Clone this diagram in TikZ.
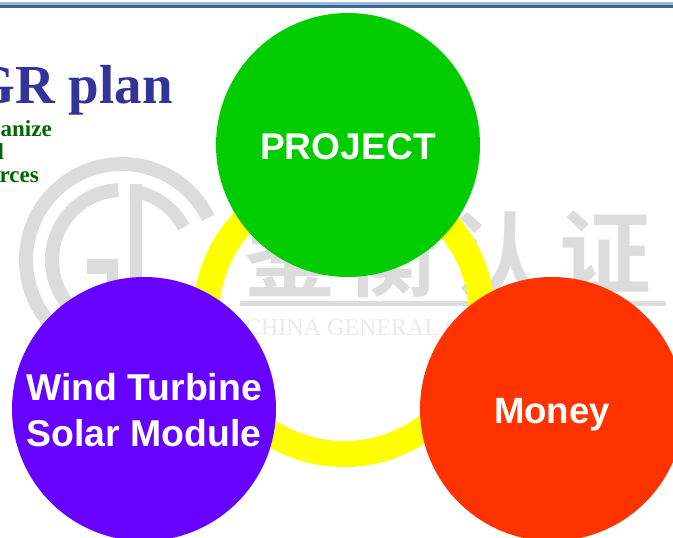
\documentclass[tikz,border=0pt]{standalone}
\usepackage{fontspec}
\setmainfont{Liberation Serif}
\setsansfont{Liberation Sans}
\newfontfamily\cjkwm{Noto Sans CJK SC}[BoldFont={* Bold}]
\definecolor{wm}{HTML}{DCDCDC}
\definecolor{wmlight}{HTML}{EBEBEB}
\definecolor{bardark}{HTML}{35699B}
\definecolor{barlight}{HTML}{9DB9D6}
\definecolor{titleblue}{HTML}{333399}
\definecolor{subgreen}{HTML}{006600}
\definecolor{cgreen}{HTML}{00CC00}
\definecolor{cpurple}{HTML}{6600FF}
\definecolor{cred}{HTML}{FF3300}
\definecolor{ringy}{HTML}{FFFF00}
\tikzset{
  x=1pt,y=-1pt,
  bubble/.style={circle,minimum size=264pt,inner sep=0pt,text=white,align=center},
  subtxt/.style={anchor=base east,inner sep=0pt,text=subgreen,font=\fontsize{23}{23}\bfseries\selectfont},
  wmark/.style={anchor=center,inner sep=0pt,text=wm,font=\cjkwm\bfseries\fontsize{92}{92}\selectfont},
}
\begin{document}
\begin{tikzpicture}
\useasboundingbox (0,0) rectangle (673,538);
\clip (0,0) rectangle (673,538);
\fill[white] (0,0) rectangle (673,538);
% top bar
\fill[barlight] (0,2.4) rectangle (673,4.7);
\fill[bardark] (0,4.7) rectangle (673,8);
% watermark logo
\coordinate (lc) at (122,260);
\draw[wm,line width=14pt] (lc) ++(-26:96) arc[start angle=-26,end angle=-225,radius=96];
\draw[wm,line width=14pt] (lc) ++(-93:70) arc[start angle=-93,end angle=-225,radius=70];
\draw[wm,line width=13pt] (lc) ++(-83:70) arc[start angle=-83,end angle=-28,radius=70];
\fill[wm] (130,184) rectangle (142,290);
\fill[wm] (87,259) rectangle (118,274);
\fill[wm] (107,259) rectangle (118,290);
% watermark text
\node[wmark] (wm1) at (290,255) {鉴};
\node[wmark] (wm2) at (392,255) {衡};
\node[wmark] (wm3) at (495,255) {认};
\node[wmark] (wm4) at (605,252) {证};
\fill[wm] (240,301) rectangle (666,306);
\node[anchor=base west,inner sep=0pt,text=wmlight,font=\fontsize{24}{24}\selectfont] (wm5) at (245,335) {CHINA GENERAL CERTIFICATION};
% title
\node[anchor=base east,inner sep=0pt,text=titleblue,font=\fontsize{55}{55}\bfseries\selectfont] (title) at (173,103) {GR plan};
\node[subtxt] (s1) at (52,136) {anize};
\node[subtxt] (s2) at (4,159) {d};
\node[subtxt] (s3) at (39,182) {rces};
% ring
\node[circle,draw=ringy,line width=26pt,minimum size=276pt,inner sep=0pt] (ring) at (344,316) {};
% circles
\node[bubble,fill=cgreen] (project) at (348,145) {};
\node[inner sep=0pt,text=white,font=\sffamily\bfseries\fontsize{37.2}{37}\selectfont] (tproject) at (348,147) {PROJECT};
\node[bubble,fill=cpurple] (wind) at (144,409) {};
\node[inner sep=0pt,text=white,align=center,font=\sffamily\bfseries\fontsize{37.4}{46}\selectfont] (twind) at (144,410) {Wind Turbine\\Solar Module};
\node[bubble,fill=cred] (money) at (552,409) {};
\node[inner sep=0pt,text=white,font=\sffamily\bfseries\fontsize{36.6}{36}\selectfont] (tmoney) at (552,415) {Money};
\end{tikzpicture}
\end{document}
